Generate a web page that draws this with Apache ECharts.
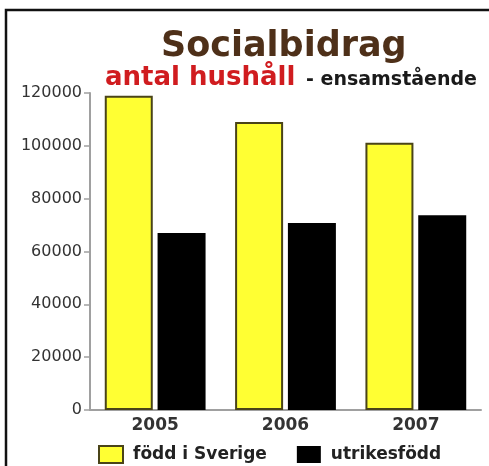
<!DOCTYPE html>
<html>
<head>
<meta charset="utf-8">
<script src="https://cdn.jsdelivr.net/npm/echarts@6/dist/echarts.min.js"></script>
<style>html,body{margin:0;padding:0;background:#fff}#c{width:489px;height:466px}</style>
</head>
<body>
<div id="c"></div>
<script>
var categories = ['2005', '2006', '2007'];
var seriesNames = ['född i Sverige', 'utrikesfödd'];
var foddISverige = [119000, 109000, 101200];
var utrikesfodd = [67000, 70800, 73700];
var yTicks = [0, 20000, 40000, 60000, 80000, 100000, 120000];

var chart = echarts.init(document.getElementById('c'), null, {renderer: 'canvas'});
var F = 'DejaVu Sans';
chart.setOption({
  backgroundColor: '#ffffff',
  animation: false,
  graphic: [
    {type: 'rect', shape: {x: 6, y: 10, width: 700, height: 700}, style: {fill: 'none', stroke: '#111', lineWidth: 2.5}, silent: true},
    {type: 'text', left: 161, top: 29, style: {text: 'Socialbidrag', fill: '#4e3019', font: 'bold 35px "DejaVu Sans"'}},
    {type: 'text', left: 105, top: 65, style: {text: 'antal hushåll', fill: '#d01c1f', font: 'bold 26px "DejaVu Sans"'}},
    {type: 'text', left: 306, top: 71, style: {text: '- ensamstående', fill: '#1a1a1a', font: 'bold 19px "DejaVu Sans"'}}
  ],
  grid: {left: 90, right: 8, top: 93, bottom: 56, containLabel: false},
  legend: {
    left: 93, top: 440, itemWidth: 24, itemHeight: 17, itemGap: 30, icon: 'rect',
    data: seriesNames,
    textStyle: {fontFamily: F, fontWeight: 'bold', fontSize: 17, color: '#222', padding: [0, 0, 0, 5]}
  },
  xAxis: {
    type: 'category', data: categories, boundaryGap: true,
    axisLine: {lineStyle: {color: '#a0a0a0', width: 2}},
    axisTick: {inside: true, length: 5, lineStyle: {color: '#a0a0a0', width: 1.5}},
    axisLabel: {fontFamily: F, fontWeight: 'bold', fontSize: 17, color: '#333', margin: 7}
  },
  yAxis: {
    type: 'value', min: 0, max: 120000, interval: 20000,
    axisLine: {show: true, lineStyle: {color: '#a0a0a0', width: 2}},
    axisTick: {show: true, length: 6, lineStyle: {color: '#a0a0a0', width: 1.5}},
    splitLine: {show: false},
    axisLabel: {fontFamily: F, fontSize: 16, color: '#333', margin: 8,
      formatter: function (v) { return String(v); }}
  },
  series: [
    {name: seriesNames[0], type: 'bar', data: foddISverige, barWidth: 48, barGap: '10%',
     itemStyle: {color: '#ffff33', borderColor: '#4a4418', borderWidth: 2}},
    {name: seriesNames[1], type: 'bar', data: utrikesfodd, barWidth: 48,
     itemStyle: {color: '#000000'}}
  ]
});
</script>
</body>
</html>
